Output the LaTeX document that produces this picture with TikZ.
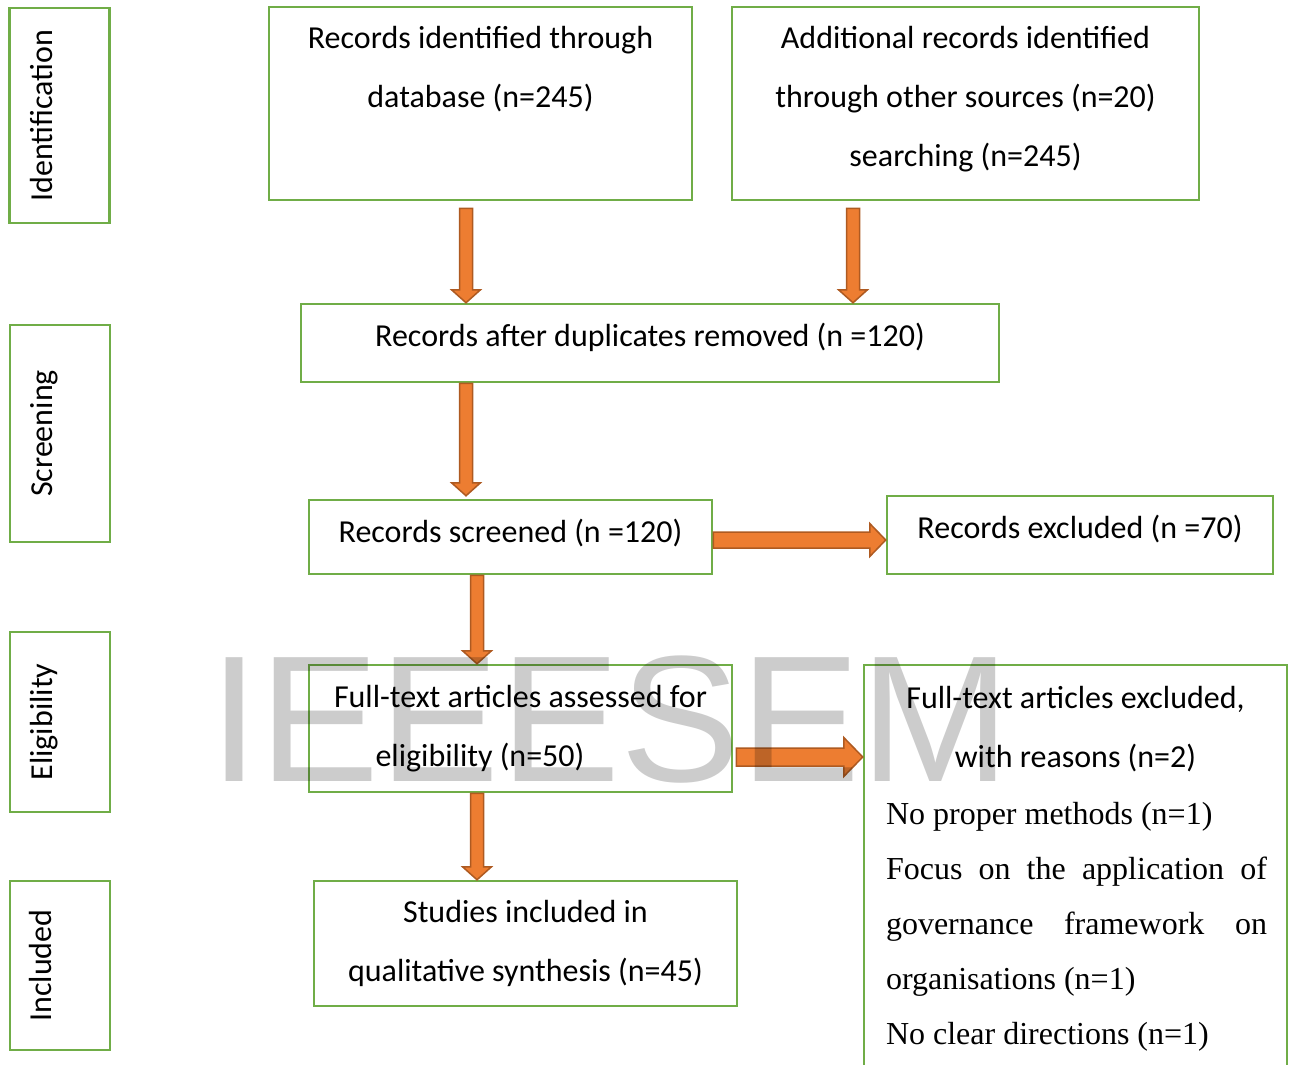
\documentclass[tikz,border=0pt]{standalone}
\usepackage{fontspec}
\setmainfont{Carlito}
\newfontfamily\reasonfont{Liberation Serif}
\newfontfamily\markfont{Liberation Sans}
\usetikzlibrary{calc,positioning}
\definecolor{boxgreen}{HTML}{70AD47}
\definecolor{arrowfill}{HTML}{ED7D31}
\definecolor{arrowline}{HTML}{AE5A21}
% block arrows: start, tip, half shaft, half head, head length
\newcommand{\arrowdown}[5]{\draw[blockarrow] let \p1=#1, \p2=#2 in
  (\x1-#3,\y1) -- (\x1+#3,\y1) -- (\x1+#3,\y2+#5) -- (\x1+#4,\y2+#5) -- (\x1,\y2)
  -- (\x1-#4,\y2+#5) -- (\x1-#3,\y2+#5) -- cycle;}
\newcommand{\arrowright}[5]{\draw[blockarrow] let \p1=#1, \p2=#2 in
  (\x1,\y1+#3) -- (\x1,\y1-#3) -- (\x2-#5,\y1-#3) -- (\x2-#5,\y1-#4) -- (\x2,\y1)
  -- (\x2-#5,\y1+#4) -- (\x2-#5,\y1+#3) -- cycle;}
\begin{document}
\begin{tikzpicture}[x=1pt,y=-1pt,
  every node/.style={font=\fontsize{32}{59}\selectfont},
  box/.style={draw=boxgreen,line width=2.5pt,rectangle,align=center,inner sep=0pt,text height=22pt},
  twolines/.style={text height=81pt},
  threelines/.style={text height=140pt},
  side/.style={box,rotate=90,minimum height=100pt},
  sidetext/.style={rotate=90,anchor=base,inner sep=0pt},
  blockarrow/.style={draw=arrowline,fill=arrowfill,line width=1.5pt,line join=miter}]
  \useasboundingbox (0,0) rectangle (1293,1065);

  % phase labels
  \node[side,minimum width=215pt] (ident) at (59.5,115.5) {};
  \node[side,minimum width=217pt] (screen) at (60,433.5) {};
  \node[side,minimum width=180pt] (elig) at (60,722) {};
  \node[side,minimum width=169pt] (incl) at (60,965.5) {};
  \node[sidetext] (identtxt) at ([xshift=-7pt]ident.center) {Identification};
  \node[sidetext] (screentxt) at ([xshift=-8pt]screen.center) {Screening};
  \node[sidetext] (eligtxt) at ([xshift=-8pt]elig.center) {Eligibility};
  \node[sidetext] (incltxt) at ([xshift=-9pt]incl.center) {Included};

  % flow boxes
  \node[box,twolines,minimum width=423pt,minimum height=193pt,text depth=74pt] (dbase) at (480.5,103.5)
    {Records identified through\\database (n=245)};
  \node[box,threelines,minimum width=467pt,minimum height=193pt,text depth=15pt] (other) at (965.5,103.5)
    {Additional records identified\\through other sources (n=20)\\searching (n=245)};
  \node[box,minimum width=698pt,minimum height=78pt,text depth=16pt] (dupl) at (650,343)
    {Records after duplicates removed (n =120)};
  \node[box,minimum width=403pt,minimum height=74pt,text depth=12pt] (scr) at (510.5,537)
    {Records screened (n =120)};
  \node[box,minimum width=386pt,minimum height=78pt,text depth=16pt] (excl) at (1080,535)
    {Records excluded (n =70)};
  \node[box,twolines,minimum width=423pt,minimum height=127pt,text depth=6pt] (full) at (520.5,728.5)
    {Full-text articles assessed for\\eligibility (n=50)\hspace*{81pt}};
  \node[box,minimum width=423pt,minimum height=410pt] (fullexcl) at (1075.5,870) {};
  \node[align=center,inner sep=0pt] (fxhead) at (1075.5,729.5)
    {Full-text articles excluded,\\with reasons (n=2)};
  \node[text width=381pt,align=left,inner sep=0pt,
    font=\reasonfont\fontsize{32}{55}\selectfont] (fxlist) at (1076.5,927)
    {\spaceskip=0pt No proper methods (n=1)\\
     Focus\hfill on\hfill the\hfill application\hfill of\\
     governance\hfill framework\hfill on\\
     organisations (n=1)\\
     No clear directions (n=1)};
  \node[box,twolines,minimum width=423pt,minimum height=125pt,text depth=6pt] (synth) at (525.5,943.5)
    {Studies included in\\qualitative synthesis (n=45)};

  % arrows
  \arrowdown{([xshift=-14.5pt,yshift=-7pt]dbase.south)}{(dupl.north)}{6.5pt}{14.5pt}{13pt}
  \arrowdown{([xshift=-112.5pt,yshift=-7pt]other.south)}{(dupl.north)}{6.5pt}{14.5pt}{13pt}
  \arrowdown{([xshift=-184pt]dupl.south)}{([yshift=3pt]scr.north)}{6.5pt}{14.5pt}{13pt}
  \arrowright{([yshift=-3pt]scr.east)}{(excl.west)}{8pt}{16.5pt}{16pt}
  \arrowdown{([xshift=-33.5pt]scr.south)}{(full.north)}{6.5pt}{14.5pt}{13pt}
  \arrowright{([xshift=3pt,yshift=-28.5pt]full.east)}{(fullexcl.west)}{9pt}{19.5pt}{19pt}
  \arrowdown{([xshift=-43.5pt]full.south)}{(synth.north)}{6.5pt}{14.5pt}{13pt}

  % watermark
  \node[font=\markfont\fontsize{180}{180}\selectfont,text=black,opacity=0.2] (mark) at (610,720) {IEEESEM};
\end{tikzpicture}
\end{document}
